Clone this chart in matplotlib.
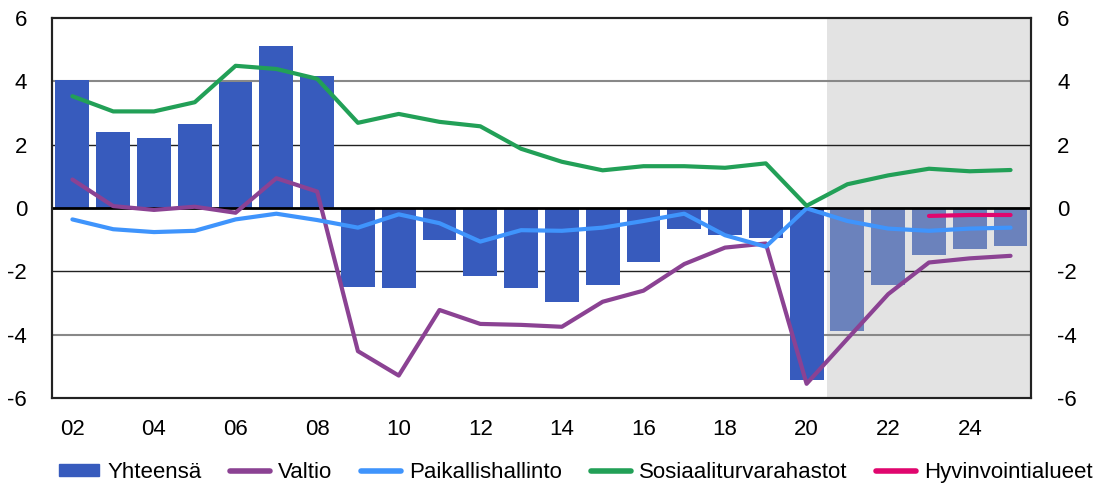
import matplotlib.pyplot as plt
from matplotlib.patches import Patch
from matplotlib.lines import Line2D

plt.rcParams['font.family'] = ['Liberation Sans', 'DejaVu Sans']

years = list(range(2002, 2026))
yhteensa = [4.05, 2.41, 2.22, 2.66, 3.98, 5.10, 4.18, -2.48, -2.53, -1.02,
            -2.15, -2.53, -2.98, -2.42, -1.70, -0.65, -0.86, -0.94, -5.43,
            -3.87, -2.42, -1.49, -1.28, -1.20]
valtio = [0.90, 0.06, -0.06, 0.04, -0.15, 0.94, 0.52, -4.52, -5.29, -3.22,
          -3.66, -3.69, -3.75, -2.96, -2.61, -1.77, -1.25, -1.12, -5.55,
          -4.13, -2.72, -1.72, -1.59, -1.51]
paikallis = [-0.36, -0.67, -0.76, -0.72, -0.36, -0.18, -0.38, -0.62, -0.20,
             -0.48, -1.06, -0.70, -0.72, -0.62, -0.41, -0.18, -0.86, -1.22,
             -0.01, -0.41, -0.65, -0.72, -0.65, -0.62]
sosiaali = [3.53, 3.05, 3.05, 3.34, 4.49, 4.39, 4.08, 2.69, 2.97, 2.72, 2.58,
            1.87, 1.46, 1.19, 1.32, 1.32, 1.27, 1.41, 0.07, 0.75, 1.03, 1.24,
            1.16, 1.20]
hyv_years = [2023, 2024, 2025]
hyvinvointi = [-0.25, -0.22, -0.22]
forecast_start = 2021
xtick_years = list(range(2002, 2026, 2))
yticks = [-6, -4, -2, 0, 2, 4, 6]

c_bar = '#375bbd'
c_bar_fc = '#6b82bc'
c_valtio = '#8b4293'
c_paik = '#3f94fc'
c_sos = '#22a057'
c_hyv = '#e0066e'

fig = plt.figure(figsize=(10.95, 4.86), dpi=100)
ax = fig.add_axes([0.0475, 0.181, 0.894, 0.782])

ax.axvspan(forecast_start - 0.5, 2025.5, color='#e3e3e3', zorder=0, lw=0)
for y in [4, -4]:
    ax.axhline(y, color='#888888', lw=1.5, zorder=1)
for y in [2, -2]:
    ax.axhline(y, color='#222222', lw=1.0, zorder=1)

bar_colors = [c_bar if yr < forecast_start else c_bar_fc for yr in years]
ax.bar(years, yhteensa, width=0.83, color=bar_colors, zorder=2)
ax.axhline(0, color='black', lw=2, zorder=3)

kw = dict(lw=3, solid_capstyle='round', solid_joinstyle='round', zorder=4)
ax.plot(years, valtio, color=c_valtio, **kw)
ax.plot(years, paikallis, color=c_paik, **kw)
ax.plot(years, sosiaali, color=c_sos, **kw)
ax.plot(hyv_years, hyvinvointi, color=c_hyv, **kw)

ax.set_xlim(2001.5, 2025.5)
ax.set_ylim(-6, 6)
ax.set_yticks(yticks)
ax.set_yticklabels([str(v) for v in yticks])
ax.set_xticks(xtick_years)
ax.set_xticklabels([f'{y % 100:02d}' for y in xtick_years])
ax.tick_params(length=0, labelsize=16)
ax.tick_params(axis='y', pad=18)
ax.tick_params(axis='x', pad=15)

ax2 = ax.twinx()
ax2.set_ylim(-6, 6)
ax2.set_yticks(yticks)
ax2.set_yticklabels([str(v) for v in yticks])
ax2.tick_params(length=0, labelsize=16, pad=19)

for a in (ax, ax2):
    for s in a.spines.values():
        s.set_color('#222222')
        s.set_linewidth(1.5)
ax.spines['bottom'].set_color('#444444')

handles = [Patch(color=c_bar, label='Yhteensä'),
           Line2D([], [], color=c_valtio, lw=4, solid_capstyle='round', label='Valtio'),
           Line2D([], [], color=c_paik, lw=4, solid_capstyle='round', label='Paikallishallinto'),
           Line2D([], [], color=c_sos, lw=4, solid_capstyle='round', label='Sosiaaliturvarahastot'),
           Line2D([], [], color=c_hyv, lw=4, solid_capstyle='round', label='Hyvinvointialueet')]
fig.legend(handles=handles, loc='center', bbox_to_anchor=(0.526, 0.028), ncol=5,
           frameon=False, fontsize=16, handlelength=1.8, handleheight=0.5,
           handletextpad=0.35, columnspacing=1.3, borderpad=0)

fig.savefig('out.png', dpi=100)
